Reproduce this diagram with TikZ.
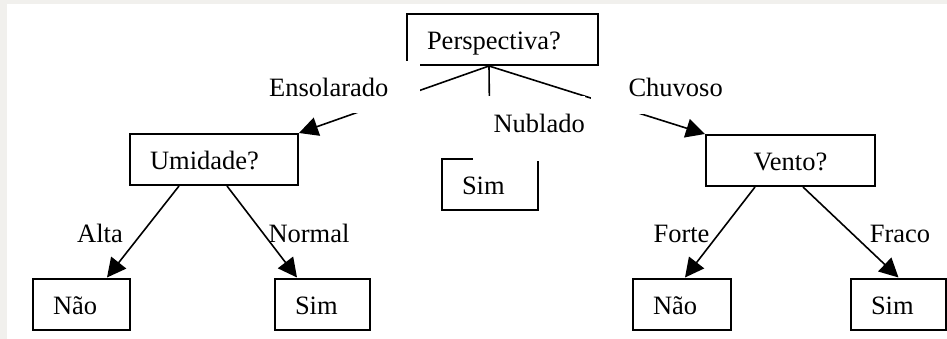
\documentclass[tikz,border=0pt]{standalone}
\usepackage{fontspec}
\setmainfont{Liberation Serif}
\usetikzlibrary{arrows.meta}
\definecolor{pagegrey}{HTML}{F1F0ED}
\tikzset{
  box/.style={draw, line width=2pt, minimum height=51pt, inner xsep=20pt, inner ysep=0pt,
    text height=24pt, text depth=4pt, align=left},
  arc/.style={line width=1.6pt, -{Triangle[length=19pt,width=19pt]}},
  cover/.style={fill=white, inner sep=0pt},
  cond/.style={inner sep=0pt, anchor=base}
}

\begin{document}
\begin{tikzpicture}[x=1pt, y=-1pt, font=\fontsize{26.5pt}{31pt}\selectfont]
  \useasboundingbox (0,0) rectangle (947,339);
  \fill[pagegrey] (0,0) rectangle (947,339);
  \fill[white] (7,4) rectangle (947,339);

  % decision nodes
  \node (persp) at (502.5,39.5) [box, text width=151pt] {Perspectiva?};
  \node (umid)  at (214,159.5)  [box, text width=128pt] {Umidade?};
  \node (vento) at (790.5,160.5) [box, text width=129pt, align=center] {Vento?};
  \node (sim0)  at (490,184.5)  [box, text width=56pt] {Sim};

  % leaves
  \node (nao1) at (81.5,304)  [box, text width=57pt] {Não};
  \node (sim1) at (322.5,304) [box, text width=55pt] {Sim};
  \node (nao2) at (682,304)   [box, text width=58pt] {Não};
  \node (sim2) at (898.5,304) [box, text width=55pt] {Sim};

  \coordinate (fork) at ([xshift=-13.5pt]persp.south);
  \draw[arc] (fork) -- (umid.north east);
  \draw[arc] (fork) -- (sim0.north);
  \draw[arc] (fork) -- (vento.north west);

  \draw[arc] ([xshift=-35pt]umid.south) -- ([xshift=25.5pt]nao1.north);
  \draw[arc] ([xshift=13pt]umid.south) -- ([xshift=-25.5pt]sim1.north);
  \draw[arc] ([xshift=-35.5pt]vento.south) -- ([xshift=3pt]nao2.north);
  \draw[arc] ([xshift=12.5pt]vento.south) -- (sim2.north);

  % branch labels (white text boxes over the lines)
  \node (ens) at (269,97)  [cover, anchor=base west, text width=151pt, align=left,
    text height=36pt, text depth=16pt] {Ensolarado};
  \node (chu) at (723,97)  [cover, anchor=base east, text width=132pt, align=right,
    text height=25pt, text depth=17pt] {Chuvoso};
  \node (nub) at (585,133) [cover, anchor=base east, text width=112pt, align=right,
    text height=37pt, text depth=28pt] {Nublado};

  \node (alta)   at (100,242)   [cond] {Alta};
  \node (normal) at (309,242)   [cond] {Normal};
  \node (forte)  at (681.5,242) [cond] {Forte};
  \node (fraco)  at (900,242)   [cond] {Fraco};
\end{tikzpicture}
\end{document}
